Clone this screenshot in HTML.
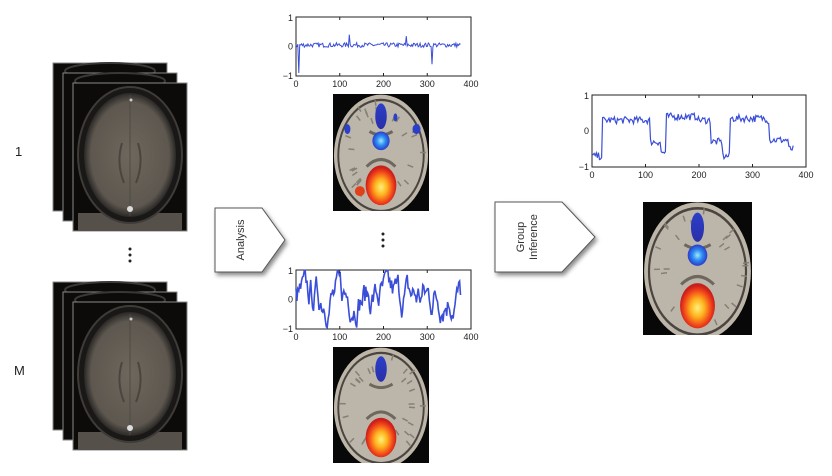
<!DOCTYPE html>
<html><head><meta charset="utf-8"><style>
html,body{margin:0;padding:0;background:#fff;}
svg{display:block;font-family:"Liberation Sans",sans-serif;}
</style></head><body>
<svg id="s" width="832" height="476" viewBox="0 0 832 476" xmlns="http://www.w3.org/2000/svg">
<defs id="defs">
<radialGradient id="mri" cx="50%" cy="50%" r="50%"><stop offset="0" stop-color="#6e675d"/><stop offset="0.85" stop-color="#5d574f"/><stop offset="1" stop-color="#2a2826"/></radialGradient>
<radialGradient id="hot" cx="50%" cy="55%" r="50%"><stop offset="0" stop-color="#fff27a"/><stop offset="0.4" stop-color="#ffb21e"/><stop offset="0.8" stop-color="#f0401a"/><stop offset="1" stop-color="#c8201a"/></radialGradient>
<radialGradient id="cold" cx="50%" cy="50%" r="50%"><stop offset="0" stop-color="#9ee8ff"/><stop offset="0.5" stop-color="#2e8cf0"/><stop offset="1" stop-color="#2a3ccc"/></radialGradient>
<linearGradient id="blue" x1="0" y1="0" x2="0" y2="1"><stop offset="0" stop-color="#2b3fc8"/><stop offset="1" stop-color="#2a2fa8"/></linearGradient>
<filter id="sh" x="-20%" y="-20%" width="150%" height="150%"><feDropShadow dx="2" dy="3" stdDeviation="2" flood-color="#000" flood-opacity="0.45"/></filter>
</defs>
<g id="main"></g>
<text x="15" y="156" font-size="13" fill="#222">1</text>
<text x="14" y="375" font-size="13" fill="#222">M</text>
<g fill="#222"><circle cx="130" cy="249" r="1.5"/><circle cx="130" cy="255" r="1.5"/><circle cx="130" cy="261" r="1.5"/>
<circle cx="383" cy="234" r="1.5"/><circle cx="383" cy="240" r="1.5"/><circle cx="383" cy="246" r="1.5"/></g>
<polygon points="215,208 262,208 285,240 262,272 215,272" fill="#fff" stroke="#555" stroke-width="1" filter="url(#sh)"/>
<text transform="translate(244,240) rotate(-90)" text-anchor="middle" font-size="11" fill="#333">Analysis</text>
<polygon points="495,202 562,202 595,237 562,272 495,272" fill="#fff" stroke="#555" stroke-width="1" filter="url(#sh)"/>
<text transform="translate(524,237) rotate(-90)" text-anchor="middle" font-size="11" fill="#333">Group</text>
<text transform="translate(537,237) rotate(-90)" text-anchor="middle" font-size="11" fill="#333">Inference</text>
</svg>
<script>
var NS="http://www.w3.org/2000/svg",g=document.getElementById("main"),defs=document.getElementById("defs");
function el(t,a,p){var e=document.createElementNS(NS,t);for(var k in a)e.setAttribute(k,a[k]);(p||g).appendChild(e);return e;}
var seed=7;function rnd(){seed=(seed*16807)%2147483647;return seed/2147483647;}
function mriStack(x,y){
 for(var i=0;i<3;i++){var fx=x+i*10,fy=y+i*10,w=114,h=148;
  el("rect",{x:fx,y:fy,width:w,height:h,fill:"#0c0b0a",stroke:"#888","stroke-width":1});
  if(i<2){el("ellipse",{cx:fx+w/2,cy:fy+8,rx:45,ry:8,fill:"none",stroke:"#3a3836","stroke-width":2});}
  else{el("rect",{x:fx+5,y:fy+h-18,width:w-10,height:18,fill:"#555049"});
   el("ellipse",{cx:fx+w/2,cy:fy+h/2-2,rx:52,ry:68,fill:"#1a1816",stroke:"#3e3b38","stroke-width":2});
   el("ellipse",{cx:fx+w/2,cy:fy+h/2-2,rx:46,ry:62,fill:"url(#mri)"});
   el("path",{d:"M"+(fx+w/2)+","+(fy+12)+"V"+(fy+h-15),stroke:"#4e4a45","stroke-width":1,fill:"none"});
   el("path",{d:"M"+(fx+w/2-8)+","+(fy+60)+"q-6,20 2,40 M"+(fx+w/2+8)+","+(fy+60)+"q6,20 -2,40",stroke:"#4a453f","stroke-width":2,fill:"none"});
   el("circle",{cx:fx+w/2,cy:fy+h-22,r:3,fill:"#ddd"});el("circle",{cx:fx+w/2+1,cy:fy+17,r:1.5,fill:"#ccc"});}
 }
}
mriStack(53,63);mriStack(53,282);
var bid=0;
function brain(x,y,w,h,type){
 var id="c"+(bid++);var cp=el("clipPath",{id:id},defs);el("rect",{x:x,y:y,width:w,height:h},cp);
 var G=el("g",{"clip-path":"url(#"+id+")"});
 function e(t,a){return el(t,a,G);}
 e("rect",{x:x,y:y,width:w,height:h,fill:"#080808"});
 var cx=x+w/2,cy=y+h/2;
 e("ellipse",{cx:cx,cy:cy+3,rx:w*0.49,ry:h*0.52,fill:"#bdb6a8"});
 e("ellipse",{cx:cx,cy:cy+3,rx:w*0.455,ry:h*0.485,fill:"#4a4540"});
 e("ellipse",{cx:cx,cy:cy+3,rx:w*0.435,ry:h*0.465,fill:"#bcb6aa"});
 for(var i=0;i<30;i++){var a=rnd()*6.28,r=0.25+rnd()*0.17;e("path",{d:"M"+(cx+Math.cos(a)*w*r)+","+(cy+Math.sin(a)*h*r)+"l"+(Math.cos(a)*6)+","+(Math.sin(a)*6),stroke:"#857f74","stroke-width":1.5,fill:"none"});}
 e("path",{d:"M"+(cx-w*0.15)+","+(cy+h*0.12)+"q"+(w*0.15)+","+(-h*0.12)+" "+(w*0.3)+",0",stroke:"#6d675e","stroke-width":3,fill:"none"});
 e("path",{d:"M"+(cx-w*0.12)+","+(cy-h*0.18)+"q"+(w*0.12)+","+(h*0.06)+" "+(w*0.24)+",0",stroke:"#6d675e","stroke-width":3,fill:"none"});
 if(type!==2)e("ellipse",{cx:cx,cy:cy-h*0.1,rx:w*0.09,ry:h*0.08,fill:"url(#cold)"});
 e("ellipse",{cx:cx,cy:y+h*0.19,rx:w*0.06,ry:h*0.11,fill:"url(#blue)"});
 if(type===1){e("ellipse",{cx:x+w*0.15,cy:cy-h*0.2,rx:3,ry:5,fill:"#2b3fc8"});e("ellipse",{cx:x+w*0.87,cy:cy-h*0.2,rx:4,ry:5,fill:"#2b3fc8"});e("ellipse",{cx:cx+w*0.15,cy:y+h*0.2,rx:2,ry:4,fill:"#2b3fc8"});}
 e("ellipse",{cx:cx,cy:cy+h*0.28,rx:w*0.16,ry:h*0.17,fill:"url(#hot)"});
 if(type===1)e("circle",{cx:cx-w*0.22,cy:cy+h*0.33,r:5,fill:"#e0401a"});
}
brain(333,94,96,117,1);brain(333,347,96,116,2);brain(643,202,109,133,3);
function plot(x,y,w,h,ys,lw){
 el("rect",{x:x,y:y,width:w,height:h,fill:"#fff",stroke:"#222","stroke-width":1});
 var pts=[];for(var i=0;i<ys.length;i++){pts.push((x+w*(i/(ys.length-1))*0.94).toFixed(1)+","+(y+h/2-ys[i]*h/2).toFixed(1));}
 el("polyline",{points:pts.join(" "),fill:"none",stroke:"#3a4ed8","stroke-width":lw});
 var lab=["0","100","200","300","400"];for(var k=0;k<5;k++){el("text",{x:x+w*k/4,y:y+h+11,"font-size":9,"text-anchor":"middle",fill:"#222"}).textContent=lab[k];
  el("path",{d:"M"+(x+w*k/4)+","+y+"v3M"+(x+w*k/4)+","+(y+h)+"v-3",stroke:"#222"});}
 [["1",y+4],["0",y+h/2+3],["−1",y+h+3]].forEach(function(t){el("text",{x:x-3,y:t[1],"font-size":9,"text-anchor":"end",fill:"#222"}).textContent=t[0];});
}
var a=[];for(var i=0;i<180;i++){var v=(rnd()-0.5)*0.15+0.05;if(i==3)v=-0.9;if(i==58)v=0.4;if(i==148)v=-0.6;if(i==120)v=0.35;a.push(v);}
plot(296,17,175,59,a,1);
var b=[],v=0;for(var i=0;i<180;i++){v=v*0.75+(rnd()-0.5)*0.9;b.push(Math.max(-0.95,Math.min(0.98,v+0.1)));}
plot(296,270,175,59,b,1.6);
var c=[],segs=[[0,-0.7],[10,0.3],[40,0.3],[55,-0.3],[65,-0.6],[70,0.4],[100,0.3],[112,-0.3],[123,-0.7],[130,0.35],[165,0.3],[167,-0.25],[185,-0.5],[200,0]];
for(var i=0;i<190;i++){var s=0;for(var j=0;j<segs.length;j++)if(i>=segs[j][0])s=segs[j][1];c.push(s+(rnd()-0.5)*0.2);}
plot(592,95,214,72,c,1.2);
</script>
</body></html>
